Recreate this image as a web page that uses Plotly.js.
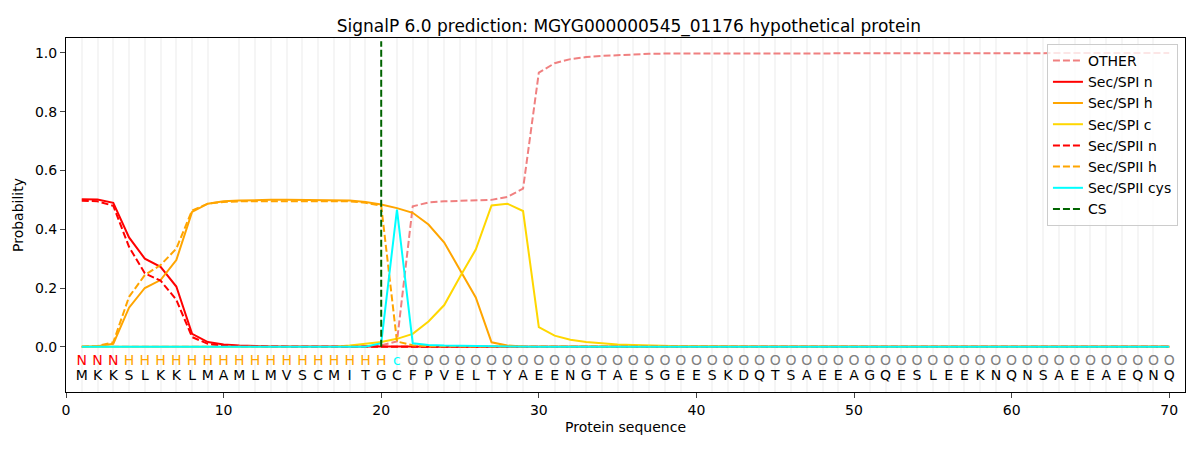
<!DOCTYPE html>
<html>
<head>
<meta charset="utf-8">
<script src="https://cdn.plot.ly/plotly-3.0.1.min.js"></script>
<style>
  body { margin: 0; background: white; }
  #chart { width: 1200px; height: 450px; }
</style>
</head>
<body>
<div id="chart"></div>
<script>
// residue positions and sequence
const positions = [1,2,3,4,5,6,7,8,9,10,11,12,13,14,15,16,17,18,19,20,
  21,22,23,24,25,26,27,28,29,30,31,32,33,34,35,36,37,38,39,40,
  41,42,43,44,45,46,47,48,49,50,51,52,53,54,55,56,57,58,59,60,
  61,62,63,64,65,66,67,68,69,70];
const sequence = 'MKKSLKKLMAMLMVSCMITGCFPVELTYAEENGTAESGEESKDQTSAEEAGQESLEEKNQNSAEEAEQNQ'.split('');
const regionLabels = 'NNNHHHHHHHHHHHHHHHHHcOOOOOOOOOOOOOOOOOOOOOOOOOOOOOOOOOOOOOOOOOOOOOOOOO'.split('');

// probabilities
const other = [0,0,0,0,0,0,0,0,0,0, 0,0,0,0,0,0,0,0,0.001,0.005,
  0.018,0.478,0.491,0.495,0.497,0.498,0.5,0.51,0.538,0.933,
  0.965,0.979,0.986,0.99,0.993,0.995,0.997,0.998,0.998,0.999,
  0.999,0.999,0.999,1,1,1,1,1,1,1, 1,1,1,1,1,1,1,1,1,1, 1,1,1,1,1,1,1,1,1,1];
const spiN = [0.502,0.501,0.49,0.372,0.3,0.272,0.205,0.044,0.016,0.008,
  0.004,0.002,0.001,0.001,0.001,0.001,0.001,0.001,0.002,0.003,
  0.003,0.001,0,0,0,0,0,0,0,0, 0,0,0,0,0,0,0,0,0,0,
  0,0,0,0,0,0,0,0,0,0, 0,0,0,0,0,0,0,0,0,0, 0,0,0,0,0,0,0,0,0,0];
const spiH = [0,0.002,0.01,0.133,0.2,0.227,0.295,0.459,0.487,0.495,
  0.498,0.5,0.5,0.5,0.5,0.5,0.5,0.498,0.493,0.484,
  0.472,0.456,0.416,0.355,0.261,0.168,0.015,0.004,0.001,0,
  0,0,0,0,0,0,0,0,0,0, 0,0,0,0,0,0,0,0,0,0, 0,0,0,0,0,0,0,0,0,0, 0,0,0,0,0,0,0,0,0,0];
const spiC = [0,0,0,0,0,0,0,0,0,0, 0,0,0,0,0,0,0,0.004,0.009,0.016,
  0.027,0.044,0.086,0.142,0.238,0.331,0.481,0.487,0.462,0.067,
  0.038,0.024,0.016,0.011,0.008,0.006,0.004,0.003,0.002,0.002,
  0.001,0.001,0,0,0,0,0,0,0,0, 0,0,0,0,0,0,0,0,0,0, 0,0,0,0,0,0,0,0,0,0];
const spiiN = [0.497,0.495,0.48,0.34,0.25,0.225,0.16,0.033,0.01,0.004,
  0.002,0.001,0,0,0,0,0,0,0.001,0.002,
  0.002,0,0,0,0,0,0,0,0,0, 0,0,0,0,0,0,0,0,0,0,
  0,0,0,0,0,0,0,0,0,0, 0,0,0,0,0,0,0,0,0,0, 0,0,0,0,0,0,0,0,0,0];
const spiiH = [0,0.003,0.015,0.17,0.244,0.278,0.334,0.464,0.487,0.493,
  0.495,0.495,0.495,0.495,0.495,0.495,0.495,0.495,0.49,0.48,
  0.018,0.005,0.002,0.001,0.001,0.001,0.001,0.001,0,0,
  0,0,0,0,0,0,0,0,0,0, 0,0,0,0,0,0,0,0,0,0, 0,0,0,0,0,0,0,0,0,0, 0,0,0,0,0,0,0,0,0,0];
const spiiCys = [0,0,0,0,0,0,0,0,0,0, 0,0,0,0,0,0,0,0,0,0.012,
  0.467,0.012,0.006,0.004,0.003,0.002,0.001,0,0,0,
  0,0,0,0,0,0,0,0,0,0, 0,0,0,0,0,0,0,0,0,0, 0,0,0,0,0,0,0,0,0,0, 0,0,0,0,0,0,0,0,0,0];
const csPos = 20;

const labelColors = { N: 'red', H: 'orange', c: 'cyan', O: 'grey' };
const font = 'DejaVu Sans, sans-serif';
const dash = '7px,3px';

function line(name, y, color, dashed) {
  return {
    type: 'scatter', mode: 'lines', name: name, x: positions, y: y,
    line: { color: color, width: 2, dash: dashed ? dash : 'solid' }
  };
}

const traces = [
  line('OTHER', other, '#F08080', true),
  line('Sec/SPI n', spiN, 'red', false),
  line('Sec/SPI h', spiH, 'orange', false),
  line('Sec/SPI c', spiC, 'gold', false),
  line('Sec/SPII n', spiiN, 'red', true),
  line('Sec/SPII h', spiiH, 'orange', true),
  line('Sec/SPII cys', spiiCys, 'cyan', false),
  {
    type: 'scatter', mode: 'lines', name: 'CS', x: [csPos, csPos], y: [0, 1.04],
    line: { color: 'darkgreen', width: 2, dash: dash }
  },
  {
    type: 'scatter', mode: 'text', x: positions, y: positions.map(() => -0.05),
    text: regionLabels, textposition: 'middle center', showlegend: false, hoverinfo: 'skip',
    textfont: { family: font, size: 14, color: regionLabels.map(l => labelColors[l]) },
    cliponaxis: false
  },
  {
    type: 'scatter', mode: 'text', x: positions, y: positions.map(() => -0.1),
    text: sequence, textposition: 'middle center', showlegend: false, hoverinfo: 'skip',
    textfont: { family: font, size: 14, color: 'black' },
    cliponaxis: false
  }
];

const layout = {
  width: 1200, height: 450,
  margin: { l: 66, r: 15, t: 38, b: 58 },
  paper_bgcolor: 'white', plot_bgcolor: 'white',
  font: { family: font, size: 14, color: 'black' },
  title: { text: 'SignalP 6.0 prediction: MGYG000000545_01176 hypothetical protein',
    font: { size: 17 }, x: 0.524, xanchor: 'center', y: 0.942, yanchor: 'middle' },
  xaxis: {
    range: [0, 71], tick0: 0, dtick: 10, ticks: 'outside', ticklen: 5,
    showline: true, linecolor: 'black', linewidth: 1, mirror: true,
    showgrid: false, zeroline: false,
    minor: { tick0: 1, dtick: 1, showgrid: true, gridcolor: '#f5f5f5', gridwidth: 2 },
    title: { text: 'Protein sequence', font: { size: 14 }, standoff: 5 }
  },
  yaxis: {
    range: [-0.154, 1.051], tick0: 0, dtick: 0.2, tickformat: '.1f',
    ticks: 'outside', ticklen: 5,
    showline: true, linecolor: 'black', linewidth: 1, mirror: true,
    showgrid: false, zeroline: false,
    title: { text: 'Probability', font: { size: 14 }, standoff: 8 }
  },
  legend: {
    x: 0.9937, xanchor: 'right', y: 0.983, yanchor: 'top',
    bgcolor: 'rgba(255,255,255,0.8)', bordercolor: '#cccccc', borderwidth: 1,
    font: { size: 14 }, tracegroupgap: 0
  },
  showlegend: true
};

Plotly.newPlot('chart', traces, layout, { displayModeBar: false, staticPlot: true });
</script>
</body>
</html>
